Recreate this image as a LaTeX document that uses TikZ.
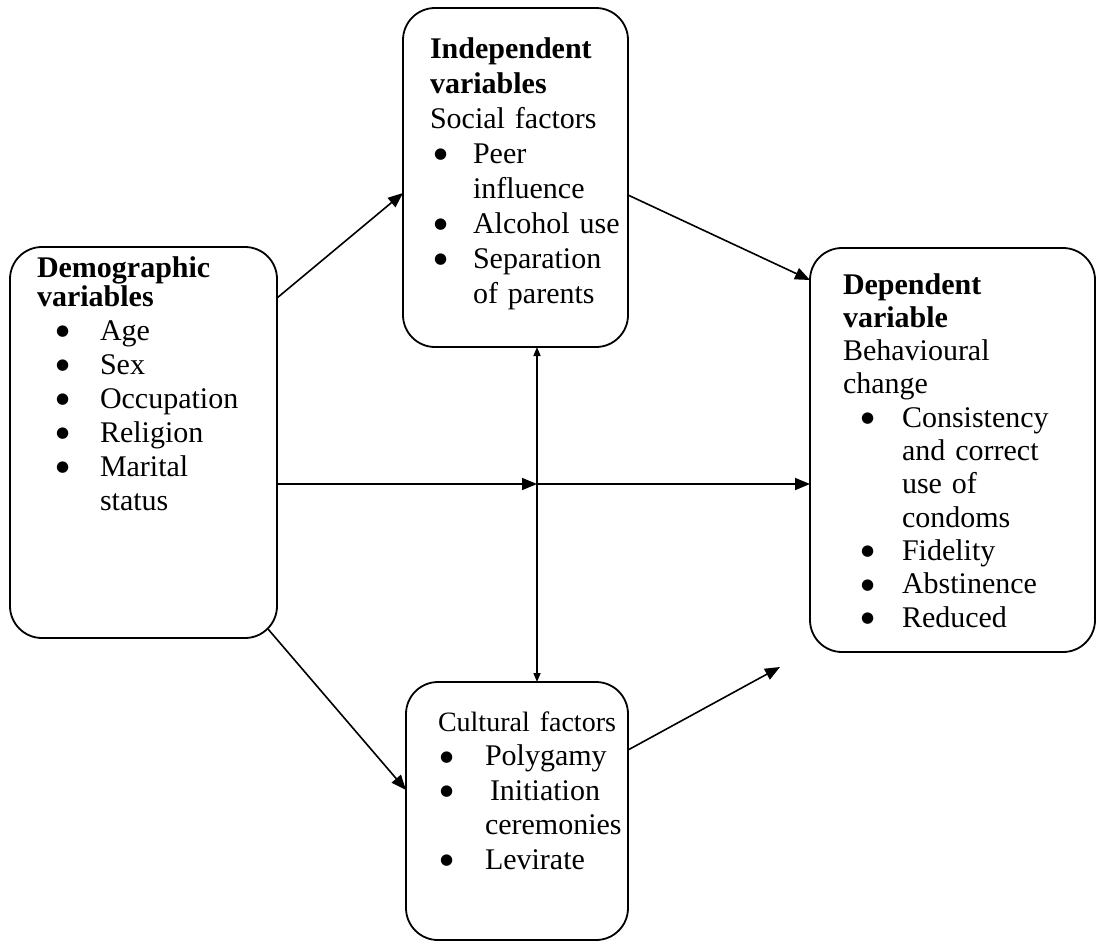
\documentclass[tikz,border=0pt]{standalone}
\usepackage{fontspec}
\setmainfont{Liberation Serif}
\newfontfamily\dvfont{DejaVu Sans}
\usetikzlibrary{arrows.meta,calc}
\tikzset{
  box/.style={draw, line width=1.8pt, rounded corners=32pt, inner sep=0pt, outer sep=0pt},
  txt/.style={anchor=base west, inner sep=0pt, outer sep=0pt, text width=320pt, align=left},
  conn/.style={line width=1.6pt, -{Triangle[length=15pt,width=12pt]}},
  small/.style={line width=1.6pt, {Triangle[length=9pt,width=7pt]}-{Triangle[length=9pt,width=7pt]}}
}
\newcommand{\bul}[2]{\hspace*{#1}\makebox[#2][l]{\raisebox{4.5pt}{\dvfont\fontsize{15}{15}\selectfont ●}}}
\begin{document}
\begin{tikzpicture}[x=1pt,y=-1pt]
\useasboundingbox (0,0) rectangle (1097,943);
% boxes
\node[box, minimum width=267pt, minimum height=391pt] (dem) at (143.5,442.5) {};
\node[box, minimum width=225pt, minimum height=339pt] (ind) at (515.5,177.5) {};
\node[box, minimum width=285pt, minimum height=404pt] (dep) at (952.5,450) {};
\node[box, minimum width=222pt, minimum height=258pt] (cul) at (517,811) {};
% texts
\node[txt, font=\fontsize{30}{34}\selectfont] (demT) at (37,277) {%
\textbf{Demographic}\\[-5pt]
\textbf{variables}\\
\bul{19pt}{44pt}Age\\
\bul{19pt}{44pt}Sex\\
\bul{19pt}{44pt}Occupation\\
\bul{19pt}{44pt}Religion\\
\bul{19pt}{44pt}Marital\\
\hspace*{63pt}status};
\node[txt, font=\fontsize{30}{35}\selectfont] (indT) at (430,58) {%
\textbf{Independent}\\
\textbf{variables}\\
Social factors\\
\bul{4pt}{39pt}Peer\\
\hspace*{43pt}influence\\
\bul{4pt}{39pt}Alcohol use\\
\bul{4pt}{39pt}Separation\\
\hspace*{43pt}of parents};
\node[txt, font=\fontsize{30}{33.3}\selectfont] (depT) at (843,294) {%
\textbf{Dependent}\\
\textbf{variable}\\
Behavioural\\
change\\
\bul{18pt}{41pt}Consistency\\
\hspace*{59pt}and correct\\
\hspace*{59pt}use of\\
\hspace*{59pt}condoms\\
\bul{18pt}{41pt}Fidelity\\
\bul{18pt}{41pt}Abstinence\\
\bul{18pt}{41pt}Reduced};
\node[txt, font=\fontsize{30}{34.5}\selectfont] (culT) at (438,731) {%
{\fontsize{28}{34.5}\selectfont Cultural factors}\\
\bul{2pt}{45pt}Polygamy\\
\bul{2pt}{45pt}\hspace*{5pt}Initiation\\
\hspace*{47pt}ceremonies\\
\bul{2pt}{45pt}Levirate};
% connectors
\coordinate (mid) at (537,484);
\draw[conn] ([yshift=-51pt]dem.north east) -- ([yshift=-185pt]ind.north west);
\draw[conn] ([yshift=-187pt]ind.north east) -- ([yshift=-32pt]dep.north west);
\draw[conn] ([yshift=-41.5pt]dem.east) -- (mid);
\draw[conn] (mid) -- (mid -| dep.west);
\draw[small] (ind.south -| mid) -- (cul.north -| mid);
\draw[conn] ([xshift=-9pt,yshift=9pt]dem.south east) -- ([yshift=-108pt]cul.north west);
\draw[conn] ([yshift=-68pt]cul.north east) -- ([xshift=-30pt,yshift=-15pt]dep.south west);
\end{tikzpicture}
\end{document}
